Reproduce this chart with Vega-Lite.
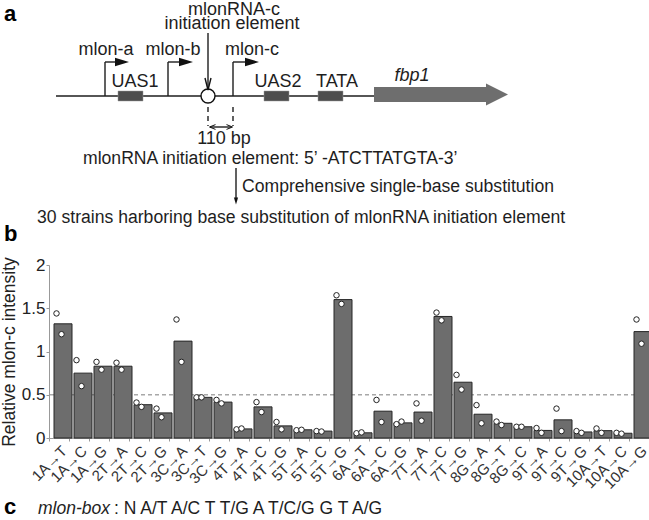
{
  "$schema": "https://vega.github.io/schema/vega-lite/v6.json",
  "padding": 0,
  "spacing": 15,
  "bounds": "flush",
  "config": {"view": {"stroke": null}, "font": "Liberation Sans", "text": {"font": "Liberation Sans", "color": "#1e1e1e"}},
  "datasets": {
    "segs": [
      {"x": 55, "y": 96, "x2": 373, "y2": 96},
      {"x": 104, "y": 96, "x2": 104, "y2": 62},
      {"x": 104, "y": 62, "x2": 115, "y2": 62},
      {"x": 167, "y": 96, "x2": 167, "y2": 62},
      {"x": 167, "y": 62, "x2": 179, "y2": 62},
      {"x": 232, "y": 96, "x2": 232, "y2": 62},
      {"x": 232, "y": 62, "x2": 245, "y2": 62},
      {"x": 207, "y": 33, "x2": 207, "y2": 88},
      {"x": 209, "y": 127, "x2": 230, "y2": 127},
      {"x": 235, "y": 168, "x2": 235, "y2": 201}
    ],
    "dashes": [
      {"x": 207, "y": 107, "x2": 207, "y2": 126},
      {"x": 232, "y": 107, "x2": 232, "y2": 126}
    ],
    "boxes": [
      {"name": "UAS1", "x": 117, "x2": 142, "y": 91, "y2": 101},
      {"name": "UAS2", "x": 263, "x2": 288, "y": 91, "y2": 101},
      {"name": "TATA", "x": 317, "x2": 342, "y": 91, "y2": 101}
    ],
    "gene": [{"name": "fbp1", "x": 373, "x2": 486, "y": 87, "y2": 102}],
    "genehead": [{"name": "fbp1", "x": 496, "y": 94.5}],
    "tss": [{"name": "mlon-a", "x": 121, "y": 62}, {"name": "mlon-b", "x": 185, "y": 62}, {"name": "mlon-c", "x": 251, "y": 62}],
    "element": [{"name": "mlonRNA-c initiation element", "x": 207, "y": 96}],
    "downhead": [{"x": 207, "y": 84}],
    "lefthead": [{"x": 211.5, "y": 127}],
    "righthead": [{"x": 228.5, "y": 127}],
    "flowhead": [{"x": 235, "y": 201}],
    "centerText": [
      {"t": "mlonRNA-c", "x": 233, "y": 15},
      {"t": "initiation element", "x": 231, "y": 28.5},
      {"t": "mlon-a", "x": 105, "y": 55},
      {"t": "mlon-b", "x": 172, "y": 55},
      {"t": "mlon-c", "x": 251, "y": 55},
      {"t": "UAS1", "x": 134, "y": 87},
      {"t": "UAS2", "x": 277, "y": 87},
      {"t": "TATA", "x": 336, "y": 87},
      {"t": "110 bp", "x": 223, "y": 144}
    ],
    "geneText": [{"t": "fbp1", "x": 411, "y": 81}],
    "leftText": [
      {"t": "mlonRNA initiation element: 5’ -ATCTTATGTA-3’", "x": 82, "y": 164},
      {"t": "Comprehensive single-base substitution", "x": 241, "y": 192},
      {"t": "30 strains harboring base substitution of mlonRNA initiation element", "x": 36, "y": 223}
    ],
    "panelText": [{"t": "a", "x": 3, "y": 21}, {"t": "b", "x": 3, "y": 241}],
    "bars": [
      {"mut": "1A→T", "value": 1.32}, {"mut": "1A→C", "value": 0.75}, {"mut": "1A→G", "value": 0.83},
      {"mut": "2T→A", "value": 0.83}, {"mut": "2T→C", "value": 0.385}, {"mut": "2T→G", "value": 0.29},
      {"mut": "3C→A", "value": 1.12}, {"mut": "3C→T", "value": 0.47}, {"mut": "3C→G", "value": 0.415},
      {"mut": "4T→A", "value": 0.105}, {"mut": "4T→C", "value": 0.36}, {"mut": "4T→G", "value": 0.14},
      {"mut": "5T→A", "value": 0.095}, {"mut": "5T→C", "value": 0.08}, {"mut": "5T→G", "value": 1.6},
      {"mut": "6A→T", "value": 0.06}, {"mut": "6A→C", "value": 0.31}, {"mut": "6A→G", "value": 0.175},
      {"mut": "7T→A", "value": 0.3}, {"mut": "7T→C", "value": 1.405}, {"mut": "7T→G", "value": 0.645},
      {"mut": "8G→A", "value": 0.275}, {"mut": "8G→T", "value": 0.17}, {"mut": "8G→C", "value": 0.13},
      {"mut": "9T→A", "value": 0.0875}, {"mut": "9T→C", "value": 0.21}, {"mut": "9T→G", "value": 0.07},
      {"mut": "10A→T", "value": 0.085}, {"mut": "10A→C", "value": 0.055}, {"mut": "10A→G", "value": 1.23}
    ],
    "reps": [
      {"mut": "1A→T", "rep": 1, "value": 1.44}, {"mut": "1A→T", "rep": 2, "value": 1.2},
      {"mut": "1A→C", "rep": 1, "value": 0.9}, {"mut": "1A→C", "rep": 2, "value": 0.6},
      {"mut": "1A→G", "rep": 1, "value": 0.88}, {"mut": "1A→G", "rep": 2, "value": 0.79},
      {"mut": "2T→A", "rep": 1, "value": 0.87}, {"mut": "2T→A", "rep": 2, "value": 0.79},
      {"mut": "2T→C", "rep": 1, "value": 0.41}, {"mut": "2T→C", "rep": 2, "value": 0.36},
      {"mut": "2T→G", "rep": 1, "value": 0.34}, {"mut": "2T→G", "rep": 2, "value": 0.24},
      {"mut": "3C→A", "rep": 1, "value": 1.37}, {"mut": "3C→A", "rep": 2, "value": 0.88},
      {"mut": "3C→T", "rep": 1, "value": 0.47}, {"mut": "3C→T", "rep": 2, "value": 0.47},
      {"mut": "3C→G", "rep": 1, "value": 0.44}, {"mut": "3C→G", "rep": 2, "value": 0.4},
      {"mut": "4T→A", "rep": 1, "value": 0.1}, {"mut": "4T→A", "rep": 2, "value": 0.11},
      {"mut": "4T→C", "rep": 1, "value": 0.415}, {"mut": "4T→C", "rep": 2, "value": 0.3},
      {"mut": "4T→G", "rep": 1, "value": 0.185}, {"mut": "4T→G", "rep": 2, "value": 0.1},
      {"mut": "5T→A", "rep": 1, "value": 0.09}, {"mut": "5T→A", "rep": 2, "value": 0.095},
      {"mut": "5T→C", "rep": 1, "value": 0.08}, {"mut": "5T→C", "rep": 2, "value": 0.075},
      {"mut": "5T→G", "rep": 1, "value": 1.65}, {"mut": "5T→G", "rep": 2, "value": 1.55},
      {"mut": "6A→T", "rep": 1, "value": 0.055}, {"mut": "6A→T", "rep": 2, "value": 0.065},
      {"mut": "6A→C", "rep": 1, "value": 0.44}, {"mut": "6A→C", "rep": 2, "value": 0.185},
      {"mut": "6A→G", "rep": 1, "value": 0.16}, {"mut": "6A→G", "rep": 2, "value": 0.19},
      {"mut": "7T→A", "rep": 1, "value": 0.4}, {"mut": "7T→A", "rep": 2, "value": 0.2},
      {"mut": "7T→C", "rep": 1, "value": 1.45}, {"mut": "7T→C", "rep": 2, "value": 1.36},
      {"mut": "7T→G", "rep": 1, "value": 0.73}, {"mut": "7T→G", "rep": 2, "value": 0.56},
      {"mut": "8G→A", "rep": 1, "value": 0.38}, {"mut": "8G→A", "rep": 2, "value": 0.17},
      {"mut": "8G→T", "rep": 1, "value": 0.19}, {"mut": "8G→T", "rep": 2, "value": 0.15},
      {"mut": "8G→C", "rep": 1, "value": 0.13}, {"mut": "8G→C", "rep": 2, "value": 0.13},
      {"mut": "9T→A", "rep": 1, "value": 0.115}, {"mut": "9T→A", "rep": 2, "value": 0.06},
      {"mut": "9T→C", "rep": 1, "value": 0.34}, {"mut": "9T→C", "rep": 2, "value": 0.08},
      {"mut": "9T→G", "rep": 1, "value": 0.08}, {"mut": "9T→G", "rep": 2, "value": 0.06},
      {"mut": "10A→T", "rep": 1, "value": 0.11}, {"mut": "10A→T", "rep": 2, "value": 0.06},
      {"mut": "10A→C", "rep": 1, "value": 0.06}, {"mut": "10A→C", "rep": 2, "value": 0.05},
      {"mut": "10A→G", "rep": 1, "value": 1.37}, {"mut": "10A→G", "rep": 2, "value": 1.09}
    ],
    "cItalic": [{"t": "mlon-box", "x": 37, "y": 61}],
    "cText": [{"t": ": N A/T A/C T T/G A T/C/G G T A/G", "x": 113, "y": 61}],
    "cPanel": [{"t": "c", "x": 3, "y": 61}]
  },
  "vconcat": [
    {
      "width": 600,
      "height": 250,
      "encoding": {
        "x": {"field": "x", "type": "quantitative", "scale": {"domain": [48, 648], "nice": false, "zero": false}, "axis": null},
        "y": {"field": "y", "type": "quantitative", "scale": {"domain": [0, 250], "nice": false, "zero": false, "reverse": true}, "axis": null}
      },
      "layer": [
        {"data": {"name": "segs"}, "mark": {"type": "rule", "stroke": "#1e1e1e", "strokeWidth": 1.4},
         "encoding": {"x2": {"field": "x2"}, "y2": {"field": "y2"}}},
        {"data": {"name": "dashes"}, "mark": {"type": "rule", "stroke": "#1e1e1e", "strokeWidth": 1.4, "strokeDash": [5, 4]},
         "encoding": {"x2": {"field": "x2"}, "y2": {"field": "y2"}}},
        {"data": {"name": "boxes"}, "mark": {"type": "rect", "fill": "#4d4d4d", "stroke": "#9a9a9a", "strokeWidth": 0.5},
         "encoding": {"x2": {"field": "x2"}, "y2": {"field": "y2"}}},
        {"data": {"name": "gene"}, "mark": {"type": "rect", "fill": "#6e6e6e"},
         "encoding": {"x2": {"field": "x2"}, "y2": {"field": "y2"}}},
        {"data": {"name": "genehead"}, "mark": {"type": "point", "shape": "M-1,-1L1,0L-1,1Z", "filled": true, "fill": "#6e6e6e", "size": 484, "opacity": 1}},
        {"data": {"name": "tss"}, "mark": {"type": "point", "shape": "M-1,-0.6L1,0L-1,0.6Z", "filled": true, "fill": "#111", "size": 196, "opacity": 1}},
        {"data": {"name": "element"}, "mark": {"type": "point", "shape": "circle", "filled": true, "fill": "white", "stroke": "#111", "strokeWidth": 1.4, "size": 196, "opacity": 1}},
        {"data": {"name": "downhead"}, "mark": {"type": "point", "shape": "M-0.5,-1L0,1L0.5,-1", "filled": false, "stroke": "#111", "strokeWidth": 1.4, "size": 144, "opacity": 1}},
        {"data": {"name": "lefthead"}, "mark": {"type": "point", "shape": "M1,-0.8L-1,0L1,0.8", "filled": false, "stroke": "#111", "strokeWidth": 1, "size": 36, "opacity": 1}},
        {"data": {"name": "righthead"}, "mark": {"type": "point", "shape": "M-1,-0.8L1,0L-1,0.8", "filled": false, "stroke": "#111", "strokeWidth": 1, "size": 36, "opacity": 1}},
        {"data": {"name": "flowhead"}, "mark": {"type": "point", "shape": "M-0.6,-1L0,1L0.6,-1Z", "filled": true, "fill": "#111", "size": 49, "opacity": 1}},
        {"data": {"name": "centerText"}, "mark": {"type": "text", "align": "center", "baseline": "alphabetic", "fontSize": 18},
         "encoding": {"text": {"field": "t"}}},
        {"data": {"name": "geneText"}, "mark": {"type": "text", "align": "center", "baseline": "alphabetic", "fontSize": 18, "fontStyle": "italic"},
         "encoding": {"text": {"field": "t"}}},
        {"data": {"name": "leftText"}, "mark": {"type": "text", "align": "left", "baseline": "alphabetic", "fontSize": 17.6},
         "encoding": {"text": {"field": "t"}}},
        {"data": {"name": "panelText"}, "mark": {"type": "text", "align": "left", "baseline": "alphabetic", "fontSize": 22, "fontWeight": "bold", "color": "#000"},
         "encoding": {"text": {"field": "t"}}}
      ]
    },
    {
      "width": 600,
      "height": 173,
      "layer": [
        {"data": {"values": [{}]}, "mark": {"type": "rule", "stroke": "#a8a8a8", "strokeDash": [4, 3], "strokeWidth": 1.5},
         "encoding": {"y": {"datum": 0.5, "type": "quantitative"}}},
        {"data": {"name": "bars"}, "mark": {"type": "bar", "fill": "#6d6d6d", "stroke": "#262626", "strokeWidth": 1, "width": {"band": 0.5}},
         "encoding": {
           "x": {"field": "mut", "type": "nominal", "sort": null, "scale": {"paddingInner": 0, "paddingOuter": 0},
                 "axis": {"title": null, "labelAngle": -45, "labelFontSize": 15, "labelColor": "#333", "domainColor": "#999", "tickColor": "#999", "tickSize": 3, "tickBand": "extent", "labelPadding": 2, "labelOverlap": false}},
           "y": {"field": "value", "type": "quantitative", "scale": {"domain": [0, 2], "nice": false},
                 "axis": {"title": "Relative mlon-c intensity", "values": [0, 0.5, 1, 1.5, 2], "format": "~g", "grid": false, "labelFontSize": 17, "labelColor": "#222", "titleFontSize": 17.5, "titleFontWeight": "normal", "titleColor": "#222", "domainColor": "#999", "tickColor": "#999", "tickSize": 3, "labelPadding": 1, "titlePadding": 3}}
         }},
        {"data": {"name": "reps"}, "mark": {"type": "point", "shape": "circle", "filled": true, "fill": "white", "stroke": "#222", "strokeWidth": 1, "size": 30, "opacity": 1},
         "encoding": {
           "x": {"field": "mut", "type": "nominal", "sort": null, "scale": {"paddingInner": 0, "paddingOuter": 0}},
           "xOffset": {"field": "rep", "type": "quantitative", "scale": {"domain": [1, 2], "range": [7.5, 12.5]}},
           "y": {"field": "value", "type": "quantitative"}
         }}
      ]
    },
    {
      "width": 600,
      "height": 70,
      "encoding": {
        "x": {"field": "x", "type": "quantitative", "scale": {"domain": [48, 648], "nice": false, "zero": false}, "axis": null},
        "y": {"field": "y", "type": "quantitative", "scale": {"domain": [0, 70], "nice": false, "zero": false, "reverse": true}, "axis": null},
        "text": {"field": "t"}
      },
      "layer": [
        {"data": {"name": "cPanel"}, "mark": {"type": "text", "align": "left", "baseline": "alphabetic", "fontSize": 22, "fontWeight": "bold", "color": "#000"}},
        {"data": {"name": "cItalic"}, "mark": {"type": "text", "align": "left", "baseline": "alphabetic", "fontSize": 17.5, "fontStyle": "italic"}},
        {"data": {"name": "cText"}, "mark": {"type": "text", "align": "left", "baseline": "alphabetic", "fontSize": 17.5}}
      ]
    }
  ]
}
